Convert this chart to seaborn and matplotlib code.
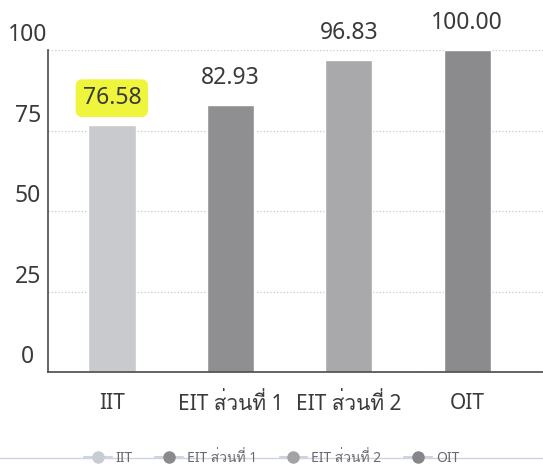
import sys
import matplotlib
matplotlib.use("Agg")
import matplotlib.pyplot as plt
import matplotlib.transforms as mtransforms
from matplotlib import font_manager
from matplotlib.ft2font import FT2Font
from matplotlib.lines import Line2D
import pandas as pd
import seaborn as sns

categories = ["IIT", "EIT ส่วนที่ 1", "EIT ส่วนที่ 2", "OIT"]
scores = [76.58, 82.93, 96.83, 100.00]
bar_colors = ["#c9cacd", "#8f8f91", "#a9a9ab", "#8b8b8d"]
marker_colors = ["#c8ccd3", "#8a8a8c", "#a3a3a5", "#868688"]
y_ticks = [0, 25, 50, 75, 100]


def findThaiFont():
	# look for any installed font that has Thai glyphs
	for f in font_manager.fontManager.ttflist:
		try:
			if 0x0E2A in FT2Font(f.fname).get_charmap():
				return f.name
		except Exception:
			pass
	return None


sns.set_style("white")
thai = findThaiFont()
families = ["Noto Sans", "DejaVu Sans"]
if thai:
	families.insert(1, thai)
plt.rcParams["font.family"] = families

textColor = "#3a3a3a"

df = pd.DataFrame({"category": categories, "score": scores})

fig = plt.figure(figsize=(5.43, 4.68), dpi=100)
ax = fig.add_axes([0.088, 0.205, 0.912, 0.688])

sns.barplot(data=df, x="category", y="score", hue="category", palette=bar_colors,
	width=0.4, legend=False, ax=ax, saturation=1)

ax.set_xlim(-0.541, 3.64)
ax.set_ylim(0, 100)
ax.set_xlabel("")
ax.set_ylabel("")

# dotted grid lines
ax.set_yticks(y_ticks)
ax.yaxis.grid(True, color="#c8c8c8", linestyle=":", linewidth=0.9)
ax.set_axisbelow(True)
ax.set_yticklabels([])
ax.tick_params(axis="y", length=0)

# y labels sit above their grid line, centred left of the axis
for v in y_ticks:
	trans = mtransforms.blended_transform_factory(ax.transAxes, ax.transData)
	trans = trans + mtransforms.ScaledTranslation(-0.20, 0.15, fig.dpi_scale_trans)
	ax.text(0, v, str(v), transform=trans, ha="center", va="center",
		fontsize=16.5, color=textColor)

ax.tick_params(axis="x", length=0, pad=15, labelsize=15, labelcolor=textColor)

for side in ["top", "right"]:
	ax.spines[side].set_visible(False)
for side in ["left", "bottom"]:
	ax.spines[side].set_color("#4a4a4a")
	ax.spines[side].set_linewidth(1.2)

# value labels
labels = []
for c in ax.containers:
	labels += ax.bar_label(c, fmt="%.2f", padding=11, fontsize=16.5, color=textColor)
labels[0].set_bbox(dict(boxstyle="round,pad=0.3", facecolor="#eef53c", edgecolor="none"))

# legend strip at the bottom
fig.add_artist(Line2D([0, 1], [0.021, 0.021], transform=fig.transFigure,
	color="#cdd3e3", linewidth=1))
handles = [Line2D([], [], color="#cdd3e3", marker="o", markersize=8,
	markerfacecolor=c, markeredgecolor=c) for c in marker_colors]
fig.legend(handles, categories, loc="center", bbox_to_anchor=(0.5, 0.021), ncol=4,
	frameon=False, fontsize=10, labelcolor="#6a6a6a", handlelength=2.0,
	handletextpad=0.3, columnspacing=1.6)

plt.savefig("out.png", dpi=100)
plt.close()
